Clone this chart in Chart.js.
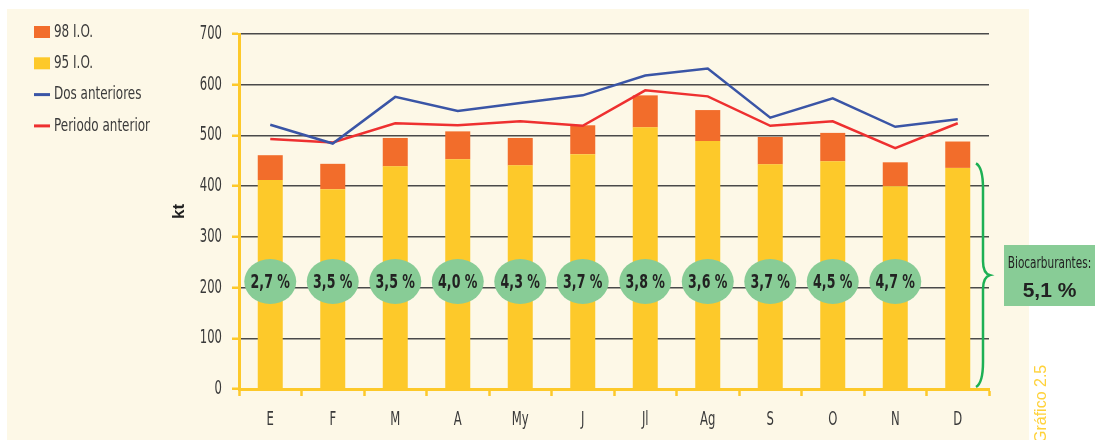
<!DOCTYPE html>
<html>
<head>
<meta charset="utf-8">
<script src="https://cdn.jsdelivr.net/npm/chart.js@4.4.1/dist/chart.umd.min.js"></script>
<style>
  html, body { margin: 0; padding: 0; background: #fff; }
  #wrap { position: relative; width: 1103px; height: 440px; }
</style>
</head>
<body>
<div id="wrap"><canvas id="fuelChart" width="1103" height="440"></canvas></div>
<script>
const months = ["E", "F", "M", "A", "My", "J", "Jl", "Ag", "S", "O", "N", "D"];
const io95 = [412, 394, 439, 453, 441, 463, 516, 489, 443, 449, 400, 436];
const io98 = [49, 50, 56, 55, 54, 57, 63, 61, 54, 56, 47, 52];
const dosAnteriores = [521, 484, 576, 548, 564, 579, 618, 632, 535, 573, 517, 532];
const periodoAnterior = [493, 486, 524, 520, 528, 519, 589, 577, 519, 528, 475, 524];
const bioPct = ["2,7 %", "3,5 %", "3,5 %", "4,0 %", "4,3 %", "3,7 %", "3,8 %", "3,6 %", "3,7 %", "4,5 %", "4,7 %"];
const bioTotal = "5,1 %";
const yMin = 0;
const yMax = 700;
const yStep = 100;

const YELLOW = "#FDC92A";
const ORANGE = "#F26D2B";
const BLUE = "#3A55A6";
const RED = "#EE3030";
const GREEN_FILL = "#88CC96";
const GREEN_LINE = "#1DB054";
const TEXT = "#3a3a3a";
const NARROW = '"DejaVu Sans Condensed", "DejaVu Sans", sans-serif';

const legendItems = [
  { label: "98 I.O.", color: ORANGE, box: true },
  { label: "95 I.O.", color: YELLOW, box: true },
  { label: "Dos anteriores", color: BLUE, box: false },
  { label: "Periodo anterior", color: RED, box: false },
];

// text squeezed horizontally to mimic the condensed typeface
function narrowText(ctx, text, x, y, font, sx, align) {
  ctx.save();
  ctx.translate(x, y);
  ctx.scale(sx, 1);
  ctx.font = font;
  ctx.textAlign = align;
  ctx.textBaseline = "middle";
  ctx.fillText(text, 0, 0);
  ctx.restore();
}

const decorPlugin = {
  id: "decor",
  beforeDraw(chart) {
    const ctx = chart.ctx;
    ctx.save();
    ctx.fillStyle = "#fff";
    ctx.fillRect(0, 0, chart.width, chart.height);
    ctx.fillStyle = "#FDF8E7";
    ctx.fillRect(7, 9, 1022, chart.height - 9);
    ctx.restore();
  },
  afterDatasetsDraw(chart) {
    const ctx = chart.ctx;
    const x = chart.scales.x;
    const y = chart.scales.y;
    const area = chart.chartArea;
    ctx.save();

    // axis labels
    ctx.fillStyle = TEXT;
    y.ticks.forEach((t) => {
      narrowText(ctx, String(t.value), area.left - 17, y.getPixelForValue(t.value), "19px " + NARROW, 0.68, "right");
    });
    months.forEach((m, i) => {
      narrowText(ctx, m, x.getPixelForValue(i), 420, "19px " + NARROW, 0.68, "center");
    });

    // biofuel share bubbles
    const cy = y.getPixelForValue(212);
    bioPct.forEach((txt, i) => {
      const cx = x.getPixelForValue(i);
      ctx.fillStyle = GREEN_FILL;
      ctx.beginPath();
      ctx.ellipse(cx, cy, 26, 22.5, 0, 0, Math.PI * 2);
      ctx.fill();
      ctx.fillStyle = "#222";
      narrowText(ctx, txt, cx, cy + 1, "bold 20px " + NARROW, 0.7, "center");
    });

    // brace
    const top = y.getPixelForValue(445);
    const bottom = area.bottom - 2;
    const mid = (top + bottom) / 2;
    const x0 = area.right - 13, x1 = area.right - 6, x2 = area.right + 1;
    ctx.strokeStyle = GREEN_LINE;
    ctx.lineWidth = 2.5;
    ctx.beginPath();
    ctx.moveTo(x0, top);
    ctx.quadraticCurveTo(x1, top + 4, x1, top + 25);
    ctx.lineTo(x1, mid - 14);
    ctx.quadraticCurveTo(x1, mid - 2, x2, mid);
    ctx.quadraticCurveTo(x1, mid + 2, x1, mid + 14);
    ctx.lineTo(x1, bottom - 25);
    ctx.quadraticCurveTo(x1, bottom - 4, x0, bottom);
    ctx.stroke();

    // total box
    ctx.fillStyle = GREEN_FILL;
    ctx.fillRect(1004, 245, 91, 61);
    ctx.fillStyle = "#222";
    narrowText(ctx, "Biocarburantes:", 1049.5, 264, "16px " + NARROW, 0.73, "center");
    narrowText(ctx, bioTotal, 1049.5, 291, "bold 21px Liberation Sans, Arial, sans-serif", 1, "center");

    // figure tag
    ctx.save();
    ctx.translate(1046, 443);
    ctx.rotate(-Math.PI / 2);
    ctx.fillStyle = "#FFD23A";
    ctx.font = "16px Liberation Sans, Arial, sans-serif";
    ctx.textAlign = "left";
    ctx.textBaseline = "alphabetic";
    ctx.fillText("Gráfico 2.5", 0, 0);
    ctx.restore();

    // legend
    legendItems.forEach((item, i) => {
      const ly = 32 + i * 31.3;
      if (item.box) {
        ctx.fillStyle = item.color;
        ctx.fillRect(34, ly - 6, 16, 12);
      } else {
        ctx.strokeStyle = item.color;
        ctx.lineWidth = 3;
        ctx.beginPath();
        ctx.moveTo(34, ly);
        ctx.lineTo(50, ly);
        ctx.stroke();
      }
      ctx.fillStyle = TEXT;
      narrowText(ctx, item.label, 54, ly, "18px " + NARROW, 0.74, "left");
    });

    ctx.restore();
  },
};

new Chart(document.getElementById("fuelChart"), {
  data: {
    labels: months,
    datasets: [
      { type: "line", label: "Dos anteriores", data: dosAnteriores, borderColor: BLUE, borderWidth: 2.5, pointRadius: 0, tension: 0, stack: "a", order: 0 },
      { type: "line", label: "Periodo anterior", data: periodoAnterior, borderColor: RED, borderWidth: 2.5, pointRadius: 0, tension: 0, stack: "b", order: 0 },
      { type: "bar", label: "95 I.O.", data: io95, backgroundColor: YELLOW, stack: "fuel", order: 1, barPercentage: 0.4, categoryPercentage: 1 },
      { type: "bar", label: "98 I.O.", data: io98, backgroundColor: ORANGE, stack: "fuel", order: 1, barPercentage: 0.4, categoryPercentage: 1 },
    ],
  },
  options: {
    responsive: false,
    animation: false,
    layout: { padding: { left: 150, right: 114, top: 34, bottom: 0 } },
    plugins: { legend: { display: false }, tooltip: { enabled: false } },
    scales: {
      x: {
        stacked: true,
        afterFit: (scale) => { scale.height = 51; },
        border: { color: YELLOW, width: 3 },
        grid: { offset: true, drawOnChartArea: false, tickColor: YELLOW, tickLength: 7, tickWidth: 2.5 },
        ticks: { display: false },
      },
      y: {
        stacked: true,
        min: yMin,
        max: yMax,
        afterFit: (scale) => { scale.width = 89; },
        border: { color: YELLOW, width: 3 },
        grid: {
          color: (c) => (c.tick && c.tick.value === 0 ? "rgba(0,0,0,0)" : "#4a4a4a"),
          lineWidth: 1.5,
          tickColor: YELLOW,
          tickLength: 7,
          tickWidth: 2.5,
        },
        ticks: { stepSize: yStep, display: false },
        title: { display: true, text: "kt", color: "#222", font: { family: "Liberation Sans, Arial, sans-serif", size: 17, weight: "bold" }, padding: { top: 19, bottom: 0 } },
      },
    },
  },
  plugins: [decorPlugin],
});
</script>
</body>
</html>
